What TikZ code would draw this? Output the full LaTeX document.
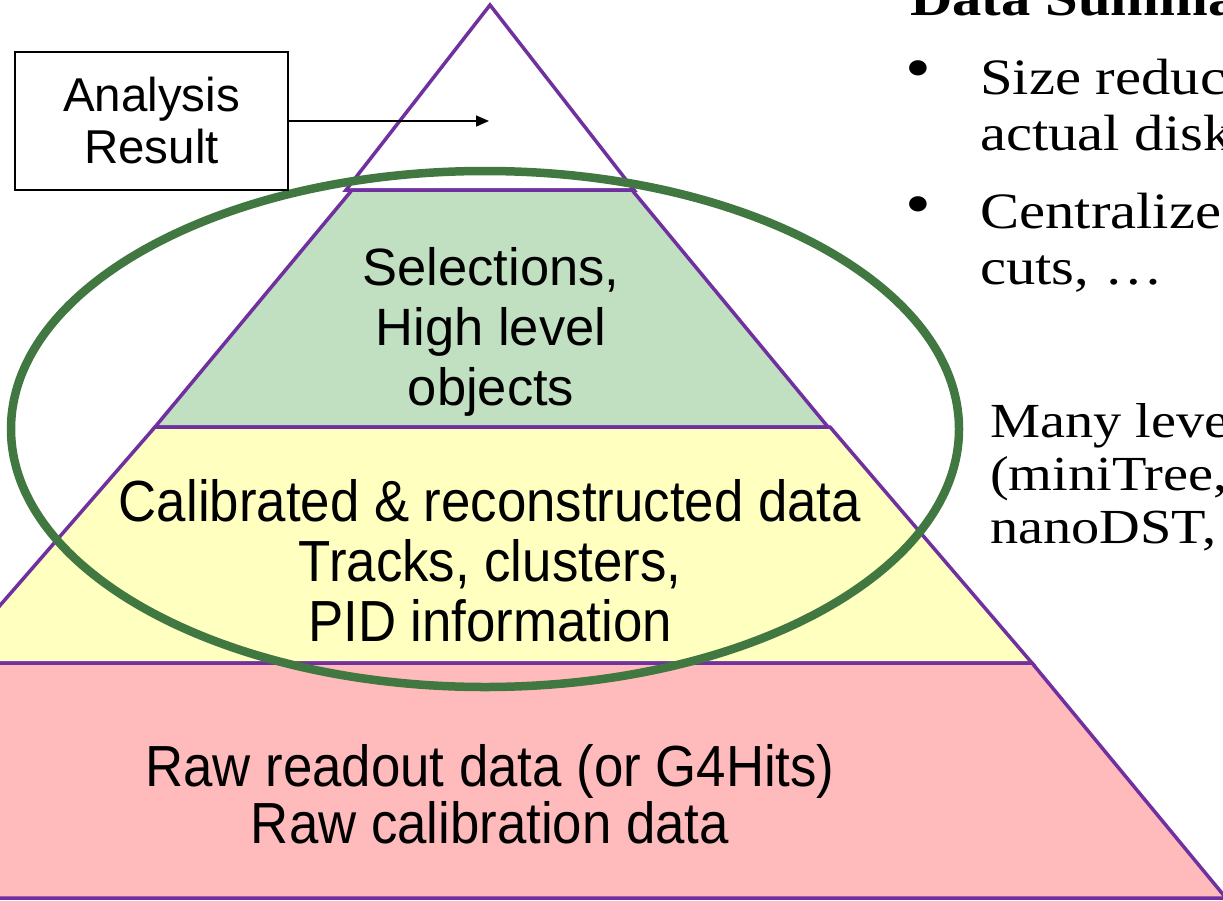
\documentclass[tikz,border=0pt]{standalone}
\usepackage{fontspec}
\setmainfont{Liberation Sans}
\newfontfamily\narrowsans[FakeStretch=0.91]{Liberation Sans}
\newfontfamily\palserif[FakeStretch=1.15]{Liberation Serif}
\usetikzlibrary{arrows.meta,positioning}

\definecolor{pyrline}{RGB}{112,48,160}
\definecolor{selgreen}{RGB}{193,224,193}
\definecolor{recoyellow}{RGB}{255,255,192}
\definecolor{rawpink}{RGB}{255,187,187}
\definecolor{ringgreen}{RGB}{65,120,65}

\begin{document}
\begin{tikzpicture}[x=1pt,y=-1pt,
  band/.style={draw=pyrline,line width=3.5pt},
  layertext/.style={align=center,inner sep=0pt},
  sidetext/.style={anchor=base west,inner sep=0pt,
    font=\palserif\fontsize{51}{56}\selectfont},
  dot/.style={inner sep=0pt,font=\fontsize{64}{64}\selectfont\palserif},
  >={Triangle[length=13pt,width=11pt]}]
\useasboundingbox (0,0) rectangle (1223,900);
% pyramid, top down
\draw[band,fill=white] (490,5) -- (634,190) -- (346,190) -- cycle;
\draw[band,fill=selgreen] (352,190) -- (632,190) -- (828,427) -- (155,427) -- cycle;
\draw[band,fill=recoyellow] (155,427) -- (830,427) -- (1032,663) -- (-50,663) -- cycle;
\draw[band,fill=rawpink] (-50,663) -- (1032,663) -- (1226,898) -- (-240,898) -- cycle;
% summary ring
\draw[ringgreen,line width=8.5pt] (485,429) ellipse [x radius=474, y radius=258];
% layer labels
\node[layertext,font=\fontsize{52.5}{60}\selectfont] (sel) at (491,332)
  {Selections,\\High level\\objects};
\node[layertext,font=\narrowsans\fontsize{58}{60}\selectfont] (reco) at (490,561)
  {Calibrated \& reconstructed data\\Tracks, clusters,\\PID information};
\node[layertext,font=\narrowsans\fontsize{58}{57}\selectfont] (raw) at (490,794)
  {Raw readout data (or G4Hits)\\Raw calibration data};
% analysis result
\node[draw,line width=2pt,minimum width=273pt,minimum height=138pt,align=center,
  font=\fontsize{47.5}{52}\selectfont] (result) at (151.5,121) {Analysis\\Result};
\coordinate (tip) at (489,121);
\draw[->,line width=1.5pt] (result.east) -- (tip);
% summary text
\node[sidetext,font=\palserif\bfseries\fontsize{51}{56}\selectfont] (title) at (910,15) {Data Summa};
\node[dot] (b1) at (918,75) {•};
\node[sidetext] (s1) at (980,94) {Size reduc};
\node[sidetext] (s2) at (980,150) {actual disk};
\node[dot] (b2) at (918,211) {•};
\node[sidetext] (s3) at (980,228) {Centralize};
\node[sidetext] (s4) at (980,284) {cuts, \dots};
\node[sidetext,font=\palserif\fontsize{49}{52}\selectfont] (m1) at (990,437) {Many leve};
\node[sidetext,font=\palserif\fontsize{49}{52}\selectfont] (m2) at (990,490) {(miniTree,};
\node[sidetext,font=\palserif\fontsize{49}{52}\selectfont] (m3) at (990,543) {nanoDST,};
\end{tikzpicture}
\end{document}
